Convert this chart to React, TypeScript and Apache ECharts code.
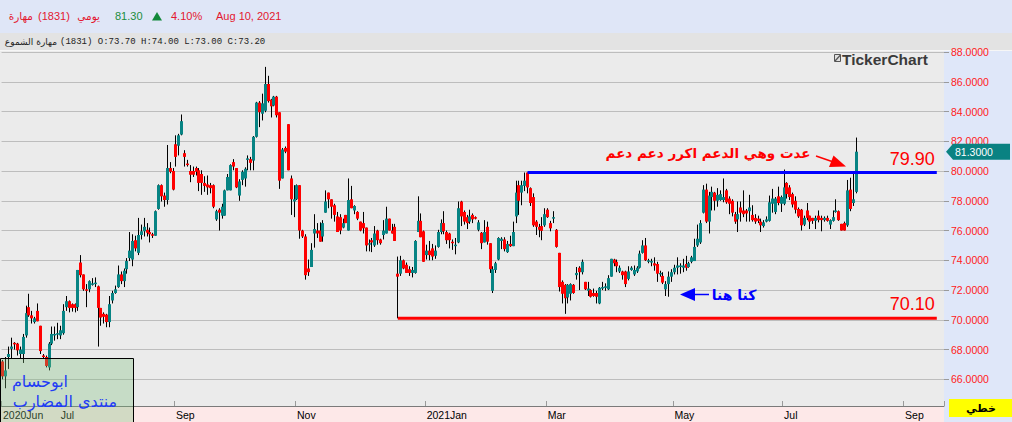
import React, { useEffect, useRef } from 'react';
import * as echarts from 'echarts';

// ---------- data ----------
const TOTAL_SLOTS = 327; // trading-day slots on the x axis (incl. empty future days)
const MONTH_TICKS: [number, string][] = [
  [0, '2020Jun'], [20, 'Jul'], [60, 'Sep'], [102, 'Nov'], [147, '2021Jan'],
  [189, 'Mar'], [233, 'May'], [271, 'Jul'], [313, 'Sep'],
];
const Y_MIN = 64.207;
const Y_MAX = 88;
const LAST_CLOSE = 81.3;
const RESISTANCE = { from: 182, to: 324, value: 79.9, label: '79.90' };
const SUPPORT = { from: 137, to: 324, value: 70.1, label: '70.10' };

// [open, close, low, high]
const CANDLES: number[][] = [
  [67.2, 66.2, 66.0, 67.3], [66.2, 66.6, 65.4, 67.5], [67.5, 67.7, 66.7, 68.2], [68.05, 68.2, 67.4, 68.8],
  [68.45, 68.35, 68.0, 68.5], [68.4, 67.95, 67.6, 68.45], [67.7, 68.0, 67.4, 68.2], [67.7, 68.85, 67.1, 69.05],
  [68.95, 70.45, 68.8, 70.95], [70.85, 70.3, 70.2, 71.75], [70.3, 70.1, 69.75, 70.6], [69.85, 70.1, 69.75, 70.2],
  [70.6, 69.9, 69.9, 71.1], [69.6, 67.9, 67.7, 69.6], [67.6, 67.55, 67.4, 67.7], [67.5, 66.9, 66.8, 67.6],
  [66.8, 68.4, 66.6, 68.5], [68.4, 69.05, 68.3, 69.55], [69.0, 69.05, 68.6, 69.55], [69.0, 69.1, 68.7, 69.8],
  [68.95, 69.3, 68.7, 69.6], [69.1, 70.6, 69.0, 71.05], [70.85, 71.25, 70.6, 71.6], [71.25, 70.8, 70.5, 71.3],
  [71.05, 70.8, 70.55, 71.1], [71.05, 70.8, 70.5, 71.1], [70.85, 73.35, 70.6, 73.35], [73.85, 73.0, 72.85, 74.35],
  [73.05, 72.05, 71.95, 73.05], [72.05, 71.95, 70.85, 72.4], [72.05, 72.6, 71.85, 72.65], [72.4, 72.45, 72.3, 72.8],
  [72.45, 72.5, 72.2, 72.85], [72.25, 70.8, 68.2, 72.3], [70.8, 70.15, 69.6, 70.8], [70.4, 70.2, 69.75, 70.5],
  [70.35, 69.85, 69.5, 70.4], [69.85, 71.05, 69.5, 71.6], [71.3, 71.8, 71.1, 71.95], [71.8, 72.05, 71.75, 72.3],
  [72.2, 73.05, 72.15, 73.65], [73.05, 72.6, 72.4, 73.25], [72.6, 73.3, 72.2, 73.45], [73.4, 73.95, 73.1, 74.15],
  [74.15, 74.65, 73.95, 75.9], [74.05, 75.3, 73.6, 75.75], [75.35, 74.8, 74.6, 75.65], [74.5, 75.7, 74.35, 76.85],
  [75.7, 75.95, 75.4, 76.4], [75.95, 76.25, 75.6, 76.85], [76.05, 75.85, 75.6, 76.5], [75.9, 75.75, 75.2, 76.2],
  [75.75, 75.65, 75.5, 75.85], [75.65, 77.3, 75.65, 77.35], [77.45, 79.05, 77.4, 79.1], [79.05, 78.3, 77.95, 79.1],
  [78.35, 78.05, 77.6, 78.55], [78.05, 80.2, 77.75, 81.75], [80.2, 79.95, 79.85, 80.6], [80.0, 78.75, 78.7, 80.2],
  [81.8, 80.95, 80.3, 82.4], [81.7, 82.4, 81.05, 82.5], [82.45, 83.35, 82.4, 83.8], [81.2, 80.95, 80.3, 81.4],
  [80.5, 80.45, 80.3, 80.75], [80.0, 79.75, 79.25, 80.4], [80.0, 79.75, 79.6, 80.3], [80.2, 79.95, 79.7, 80.3],
  [80.05, 79.2, 78.65, 80.2], [79.8, 79.2, 78.4, 80.05], [79.2, 79.0, 78.6, 79.65], [79.1, 78.9, 78.4, 79.7],
  [79.05, 78.85, 78.5, 79.2], [79.05, 77.6, 77.5, 79.1], [76.75, 77.3, 76.65, 77.4], [77.4, 77.2, 76.0, 77.5],
  [77.0, 77.6, 76.8, 77.8], [77.0, 78.7, 77.0, 78.75], [78.7, 79.6, 78.7, 79.8], [78.7, 80.4, 78.7, 80.45],
  [80.6, 80.3, 80.05, 80.8], [80.2, 78.9, 78.85, 80.2], [78.35, 79.3, 78.0, 79.45], [79.4, 79.95, 79.05, 80.05],
  [79.5, 80.15, 78.95, 80.25], [80.75, 80.85, 80.05, 81.05], [80.8, 80.55, 80.05, 80.95], [80.7, 82.3, 80.05, 82.35],
  [82.3, 84.6, 82.25, 84.65], [84.6, 83.95, 82.95, 84.7], [83.85, 84.55, 83.4, 85.2], [84.05, 85.85, 83.95, 87.0],
  [85.85, 84.7, 84.6, 86.4], [84.8, 84.35, 83.6, 84.85], [84.4, 85.0, 84.35, 85.05], [85.0, 83.75, 83.6, 85.05],
  [83.95, 79.35, 78.8, 83.95], [79.5, 81.45, 79.5, 81.55], [81.55, 81.3, 81.2, 81.65], [83.15, 80.05, 80.05, 83.15],
  [79.5, 78.1, 77.05, 79.7], [77.95, 78.1, 76.9, 79.05], [78.1, 79.05, 78.05, 79.1], [79.05, 76.0, 75.45, 79.05],
  [76.0, 75.6, 75.5, 76.05], [75.6, 73.0, 72.7, 75.75], [73.45, 73.2, 72.95, 74.05], [73.55, 74.7, 73.55, 75.15],
  [75.8, 76.1, 74.85, 77.1], [76.0, 75.8, 75.5, 76.5], [76.0, 75.25, 75.25, 76.55], [75.6, 76.5, 75.25, 76.7],
  [77.2, 77.95, 77.2, 78.7], [78.55, 78.1, 77.5, 78.55], [78.1, 77.6, 76.8, 78.1], [77.7, 77.05, 76.6, 77.8],
  [76.95, 75.9, 75.9, 77.25], [76.9, 76.0, 75.75, 77.1], [76.2, 76.5, 76.15, 76.8], [77.05, 76.5, 76.5, 77.05],
  [76.0, 78.05, 76.0, 79.5], [78.1, 77.5, 77.5, 79.0], [77.35, 77.65, 77.1, 77.7], [77.25, 76.8, 76.7, 77.3],
  [76.6, 76.0, 75.95, 76.6], [76.5, 76.15, 75.8, 77.25], [76.2, 75.0, 74.6, 76.2], [75.05, 75.15, 74.6, 75.4],
  [75.35, 75.2, 74.55, 75.5], [75.0, 75.8, 74.9, 76.3], [76.0, 75.35, 75.05, 76.05], [75.4, 75.15, 75.05, 75.45],
  [75.7, 76.0, 75.4, 76.7], [75.8, 76.8, 75.8, 77.6], [76.8, 76.0, 76.0, 76.8], [76.0, 75.8, 75.8, 76.45],
  [76.25, 75.3, 75.3, 76.45], [73.1, 72.9, 70.1, 74.25], [73.1, 74.0, 72.95, 74.3], [74.0, 73.45, 73.4, 74.05],
  [73.7, 73.15, 73.15, 73.85], [73.4, 73.15, 72.95, 73.6], [73.15, 73.35, 72.85, 73.55], [73.15, 75.3, 73.1, 75.35],
  [75.9, 76.65, 75.9, 78.3], [76.65, 75.55, 75.55, 77.15], [75.95, 73.9, 73.9, 76.0], [74.35, 74.65, 74.05, 75.05],
  [74.65, 74.35, 74.0, 75.3], [74.8, 74.25, 74.0, 75.1], [74.3, 74.65, 74.1, 75.0], [74.9, 75.9, 74.85, 76.05],
  [75.9, 76.5, 75.75, 76.75], [76.5, 75.95, 75.75, 77.3], [75.9, 75.35, 75.1, 76.0], [75.8, 75.35, 74.8, 75.85],
  [75.25, 75.15, 74.7, 75.4], [75.0, 75.05, 74.4, 75.5], [75.2, 77.5, 75.15, 77.95], [77.95, 76.95, 76.3, 78.0],
  [77.25, 76.6, 76.4, 77.35], [76.9, 76.5, 76.1, 77.05], [76.6, 76.95, 76.45, 77.4], [77.05, 76.75, 76.5, 77.15],
  [76.9, 76.8, 76.75, 76.95], [76.05, 76.55, 75.95, 76.7], [75.85, 75.15, 74.75, 75.9], [75.2, 75.9, 75.2, 76.7],
  [76.25, 75.25, 75.05, 76.6], [75.15, 73.4, 73.15, 75.15], [71.95, 73.4, 71.8, 73.6], [73.35, 73.8, 73.15, 73.9],
  [74.05, 75.5, 74.0, 75.55], [75.3, 75.45, 74.75, 75.55], [75.4, 74.75, 74.6, 75.55], [74.55, 75.1, 74.5, 75.3],
  [75.1, 74.95, 74.9, 75.65], [74.95, 75.9, 74.95, 76.6], [76.95, 78.55, 76.5, 79.35], [79.05, 78.0, 77.05, 79.35],
  [78.55, 79.05, 77.7, 79.35], [79.0, 79.35, 78.65, 79.9], [79.9, 78.9, 78.5, 79.9], [78.85, 77.85, 77.65, 78.9],
  [78.25, 76.35, 76.25, 78.5], [76.6, 76.25, 75.7, 76.7], [76.25, 76.05, 75.55, 76.45], [76.3, 75.98, 75.35, 76.9],
  [76.35, 77.1, 76.25, 77.5], [77.4, 76.9, 76.85, 77.5], [76.5, 76.15, 75.95, 76.65], [76.85, 76.9, 76.5, 77.3],
  [76.05, 74.9, 74.85, 76.1], [74.5, 72.2, 71.9, 74.5], [72.55, 71.75, 71.1, 72.65], [72.35, 71.45, 70.4, 72.4],
  [71.5, 72.35, 71.1, 72.4], [71.75, 72.4, 71.3, 72.45], [72.35, 71.8, 71.75, 72.4], [73.0, 73.15, 72.7, 73.55],
  [73.5, 73.2, 72.0, 73.6], [73.2, 73.9, 73.05, 74.05], [72.55, 72.05, 72.0, 72.55], [71.95, 72.1, 71.6, 72.55],
  [72.0, 71.55, 71.5, 72.05], [71.8, 71.6, 71.55, 72.1], [71.8, 71.55, 71.1, 71.95], [71.1, 72.15, 71.05, 72.2],
  [72.15, 72.2, 72.0, 72.55], [72.2, 72.25, 71.95, 72.45], [72.05, 72.8, 72.0, 73.0], [72.9, 74.1, 72.9, 74.1],
  [74.05, 73.8, 73.6, 74.1], [73.9, 73.6, 73.2, 74.05], [73.25, 73.5, 73.15, 73.65], [73.25, 73.0, 72.7, 73.3],
  [73.25, 72.4, 72.2, 73.3], [72.75, 73.25, 72.65, 73.6], [73.35, 73.5, 73.3, 73.6], [73.05, 73.35, 72.95, 73.65],
  [73.25, 73.5, 73.15, 73.6], [73.5, 74.45, 73.45, 74.65], [74.5, 75.0, 74.45, 75.35], [75.0, 74.0, 73.95, 75.5],
  [73.9, 74.0, 73.8, 74.1], [73.85, 73.95, 73.6, 74.1], [73.8, 73.65, 73.3, 74.2], [73.75, 73.1, 72.55, 73.9],
  [73.05, 73.15, 72.9, 73.3], [72.95, 72.5, 72.4, 73.2], [72.05, 72.4, 71.6, 72.6], [72.4, 72.9, 71.55, 73.25],
  [72.9, 73.2, 72.55, 73.4], [73.2, 73.5, 73.05, 73.7], [73.5, 73.65, 73.05, 74.2], [73.6, 73.65, 73.1, 73.8],
  [73.5, 73.65, 73.2, 74.1], [73.75, 73.5, 73.3, 74.3], [73.55, 73.8, 73.5, 73.9], [73.9, 74.2, 73.8, 74.3],
  [73.95, 74.9, 73.95, 75.45], [75.0, 75.45, 74.9, 76.4], [75.2, 76.5, 75.1, 76.7], [77.2, 78.75, 77.15, 79.05],
  [78.75, 76.6, 76.5, 79.15], [76.6, 78.35, 75.8, 78.6], [78.25, 78.6, 77.35, 78.95], [78.55, 78.0, 77.35, 78.6],
  [78.0, 78.4, 77.6, 78.85], [78.05, 78.45, 78.0, 78.7], [78.05, 78.25, 77.9, 79.5], [78.7, 77.9, 77.8, 78.8],
  [78.15, 77.8, 77.1, 78.3], [78.0, 77.2, 76.95, 78.1], [77.1, 76.6, 76.45, 77.25], [76.75, 77.1, 75.9, 77.95],
  [77.55, 77.2, 76.6, 77.95], [77.35, 77.1, 76.9, 78.7], [77.35, 77.15, 76.6, 77.45], [77.3, 77.55, 76.6, 78.4],
  [77.05, 76.7, 76.6, 77.7], [76.85, 76.6, 76.45, 77.1], [76.8, 76.65, 76.5, 77.0], [76.6, 76.35, 75.9, 76.8],
  [76.3, 76.55, 76.2, 76.7], [76.6, 76.75, 76.55, 76.95], [76.65, 77.9, 76.6, 78.35], [77.8, 78.15, 77.2, 78.8],
  [77.25, 78.15, 77.1, 78.25], [78.3, 77.85, 77.7, 78.95], [77.8, 78.25, 77.25, 78.35], [77.8, 78.9, 77.7, 80.1],
  [79.2, 78.45, 78.15, 79.25], [78.9, 78.25, 78.05, 79.05], [78.45, 77.75, 77.55, 78.55], [78.0, 77.4, 77.15, 78.3],
  [77.45, 76.95, 76.85, 77.55], [77.4, 76.35, 76.0, 77.45], [76.4, 76.85, 76.3, 77.0], [77.35, 76.85, 76.7, 77.85],
  [77.0, 76.6, 76.1, 77.0], [76.85, 76.65, 76.45, 76.85], [76.65, 76.85, 76.1, 77.0], [77.0, 76.7, 76.55, 77.35],
  [76.85, 76.7, 75.95, 77.0], [76.7, 76.85, 76.6, 76.95], [76.85, 76.65, 76.6, 77.0], [76.4, 76.7, 76.1, 76.75],
  [76.65, 76.9, 76.6, 77.35], [77.25, 77.35, 77.2, 78.1], [77.3, 76.7, 76.65, 77.35], [76.45, 76.0, 76.0, 76.45],
  [76.5, 76.0, 76.0, 76.6], [76.35, 78.7, 76.25, 79.4], [78.75, 77.45, 77.3, 79.55], [77.85, 78.1, 77.65, 80.0],
  [78.6, 81.3, 78.5, 82.25],
];

// ---------- styles ----------
const UP = '#078484';
const DOWN = '#ff0000';
const AXIS_RED = '#ff1a1a';
const HEADER_RED = '#e3172f';
const AR_FONT = '"DejaVu Sans"';
const LAT_FONT = '"Liberation Sans", "DejaVu Sans"';

const CATEGORIES = Array.from({ length: TOTAL_SLOTS }, (_, i) => String(i));
const TICK_MAP = new Map<number, string>(MONTH_TICKS);

function buildOption(): any {
  return {
    animation: false,
    backgroundColor: '#ebebeb',
    grid: { left: 0, right: 68, top: 52, bottom: 16, containLabel: false },
    xAxis: {
      type: 'category',
      data: CATEGORIES,
      boundaryGap: true,
      z: 3,
      axisLine: { show: true, lineStyle: { color: '#7a7a7a', width: 1 } },
      axisTick: {
        show: true, inside: true, length: 5,
        interval: (i: number) => TICK_MAP.has(i),
        lineStyle: { color: '#9a9a9a' },
      },
      axisLabel: {
        interval: (i: number) => TICK_MAP.has(i),
        formatter: (v: string) => TICK_MAP.get(Number(v)) || '',
        align: 'left', margin: 3, color: '#000',
        fontSize: 10.5, fontFamily: LAT_FONT,
      },
      splitLine: { show: false },
    },
    yAxis: {
      type: 'value',
      position: 'right',
      min: Y_MIN, max: Y_MAX,
      splitNumber: 12, minInterval: 2, maxInterval: 2,
      z: 3,
      axisLine: { show: false },
      axisTick: { show: true, length: 5, lineStyle: { color: '#9a9a9a' } },
      axisLabel: {
        showMinLabel: false, margin: 7, color: AXIS_RED,
        fontSize: 10.5, fontFamily: LAT_FONT,
        formatter: (v: number) => v.toFixed(4),
      },
      splitLine: { show: true, lineStyle: { color: '#bdbdbd', width: 1 } },
    },
    series: [
      {
        type: 'custom',
        z: 5,
        data: CANDLES.map((d, i) => [i, d[0], d[1], d[2], d[3]]),
        encode: { x: 0, y: [1, 2, 3, 4] },
        renderItem: (_p: any, api: any) => {
          const i = api.value(0);
          const o = api.value(1), c = api.value(2), l = api.value(3), h = api.value(4);
          const pO = api.coord([i, o]);
          const pC = api.coord([i, c]);
          const pL = api.coord([i, Math.min(l, o, c)]);
          const pH = api.coord([i, Math.max(h, o, c)]);
          const x = Math.floor(pO[0]) + 0.5;
          const top = Math.min(pO[1], pC[1]);
          let hgt = Math.abs(pO[1] - pC[1]);
          if (hgt < 1.5) hgt = 1.5;
          return {
            type: 'group',
            children: [
              { type: 'line', shape: { x1: x, y1: pH[1], x2: x, y2: pL[1] }, style: { stroke: '#000', lineWidth: 1 } },
              { type: 'rect', shape: { x: x - 1.5, y: top, width: 3, height: hgt }, style: { fill: c >= o ? UP : DOWN } },
            ],
          };
        },
      },
      {
        type: 'line', z: 6, symbol: 'none', silent: true,
        data: [[RESISTANCE.from, RESISTANCE.value], [RESISTANCE.to, RESISTANCE.value]],
        lineStyle: { color: '#0000ff', width: 3 },
      },
      {
        type: 'line', z: 6, symbol: 'none', silent: true,
        data: [[SUPPORT.from, SUPPORT.value], [SUPPORT.to, SUPPORT.value]],
        lineStyle: { color: '#ff0000', width: 3 },
      },
    ],
  };
}

function txt(text: string, x: number, y: number, fill: string, font: string, align = 'left', z = 30): any {
  return { type: 'text', x, y, z, silent: true, style: { text, fill, font, align, verticalAlign: 'middle' } };
}

export default function App() {
  const ref = useRef<HTMLDivElement>(null);
  useEffect(() => {
    const el = ref.current as HTMLDivElement;
    const chart = echarts.init(el, undefined, { renderer: 'svg' });
    chart.setOption(buildOption());

    const toPx = (x: number, y: number) => chart.convertToPixel({ gridIndex: 0 }, [x, y]) as number[];
    const tagY = toPx(0, LAST_CLOSE)[1];
    const resP = toPx(RESISTANCE.to, RESISTANCE.value);
    const supP = toPx(SUPPORT.to, SUPPORT.value);

    const graphics: any[] = [
      // panels
      { type: 'rect', z: 0, silent: true, shape: { x: 0, y: 0, width: 1012, height: 33 }, style: { fill: '#dfe6f7' } },
      { type: 'rect', z: 0, silent: true, shape: { x: 0, y: 33, width: 1012, height: 17 }, style: { fill: '#e3e3e3' } },
      { type: 'line', z: 0, silent: true, shape: { x1: 0, y1: 50.5, x2: 1012, y2: 50.5 }, style: { stroke: '#f6f6f6', lineWidth: 1 } },
      { type: 'rect', z: 0, silent: true, shape: { x: 944, y: 51, width: 68, height: 371 }, style: { fill: '#dfe7f9' } },
      { type: 'rect', z: 0, silent: true, shape: { x: 0, y: 406, width: 944, height: 16 }, style: { fill: '#fde8e8' } },
      { type: 'rect', z: 1, silent: true, shape: { x: 949, y: 399, width: 63, height: 18 }, style: { fill: '#ffff00' } },
      txt('خطي', 981, 408, '#000', `bold 11px ${AR_FONT}`, 'center'),
      // header row 1
      txt('مهارة', 33, 16, HEADER_RED, `10.5px ${AR_FONT}`, 'right'),
      txt('(1831)', 38, 16, HEADER_RED, `11px ${LAT_FONT}`),
      txt('يومي', 100, 16, HEADER_RED, `10.5px ${AR_FONT}`, 'right'),
      txt('81.30', 115, 16, '#1b8d3b', `11px ${LAT_FONT}`),
      { type: 'polygon', z: 30, silent: true, shape: { points: [[152, 20.5], [162, 20.5], [157, 12]] }, style: { fill: '#11883a' } },
      txt('4.10%', 171, 16, HEADER_RED, `11px ${LAT_FONT}`),
      txt('Aug 10, 2021', 216, 16, HEADER_RED, `11px ${LAT_FONT}`),
      // header row 2
      txt('مهارة الشموع', 57, 42, '#222', `9px ${AR_FONT}`, 'right'),
      txt('(1831) O:73.70 H:74.00 L:73.00 C:73.20', 60, 42, '#222', `9px "Liberation Mono", "DejaVu Sans Mono"`),
      // watermark
      { type: 'rect', z: 30, silent: true, shape: { x: 834.5, y: 54.5, width: 6, height: 7 }, style: { fill: '#e0e0e0', stroke: '#555', lineWidth: 1 } },
      { type: 'line', z: 30, silent: true, shape: { x1: 835, y1: 61, x2: 840.5, y2: 55 }, style: { stroke: '#555', lineWidth: 1.2 } },
      txt('TickerChart', 842, 59, '#3b3b3b', `bold 15.5px ${LAT_FONT}`),
      // level labels
      { type: 'text', z: 30, silent: true, x: resP[0] - 2, y: resP[1] - 5, style: { text: RESISTANCE.label, fill: '#ff0000', font: `18px ${LAT_FONT}`, align: 'right', verticalAlign: 'bottom' } },
      { type: 'text', z: 30, silent: true, x: supP[0] - 2, y: supP[1] - 5, style: { text: SUPPORT.label, fill: '#ff0000', font: `18px ${LAT_FONT}`, align: 'right', verticalAlign: 'bottom' } },
      // last price tag
      { type: 'polygon', z: 30, silent: true, shape: { points: [[946, tagY], [953, tagY - 8], [1010, tagY - 8], [1010, tagY + 8], [953, tagY + 8]] }, style: { fill: '#0a8282' } },
      txt(LAST_CLOSE.toFixed(4), 955, tagY, '#ffffff', `10.5px ${LAT_FONT}`),
      // red annotation
      txt('عدت وهي الدعم اكرر دعم دعم', 708, 153, '#ff0000', `bold 13.5px ${AR_FONT}`, 'center'),
      { type: 'line', z: 30, silent: true, shape: { x1: 816, y1: 156, x2: 832, y2: 161.5 }, style: { stroke: '#ff0000', lineWidth: 1.5 } },
      { type: 'polygon', z: 30, silent: true, shape: { points: [[846, 166.5], [833.5, 155.5], [829, 167]] }, style: { fill: '#ff0000' } },
      // blue annotation
      txt('كنا هنا', 734, 295, '#0000ff', `bold 14px ${AR_FONT}`, 'center'),
      { type: 'line', z: 30, silent: true, shape: { x1: 694, y1: 294.5, x2: 709, y2: 294.5 }, style: { stroke: '#0000ff', lineWidth: 1.5 } },
      { type: 'polygon', z: 30, silent: true, shape: { points: [[680, 294.5], [695, 288], [695, 301]] }, style: { fill: '#0000ff' } },
      // signature box
      { type: 'rect', z: 40, silent: true, shape: { x: 0.5, y: 358.5, width: 133, height: 64 }, style: { fill: 'rgba(120,190,120,0.32)', stroke: '#000', lineWidth: 1 } },
      txt('ابوحسام', 40, 381, '#1f3cf5', `16px ${AR_FONT}`, 'center', 41),
      txt('منتدى المضارب', 65, 401, '#1f3cf5', `16px ${AR_FONT}`, 'center', 41),
    ];
    chart.setOption({ graphic: graphics });
    return () => chart.dispose();
  }, []);
  return <div ref={ref} style={{ position: 'absolute', left: 0, top: 0, width: 1012, height: 422 }} />;
}
